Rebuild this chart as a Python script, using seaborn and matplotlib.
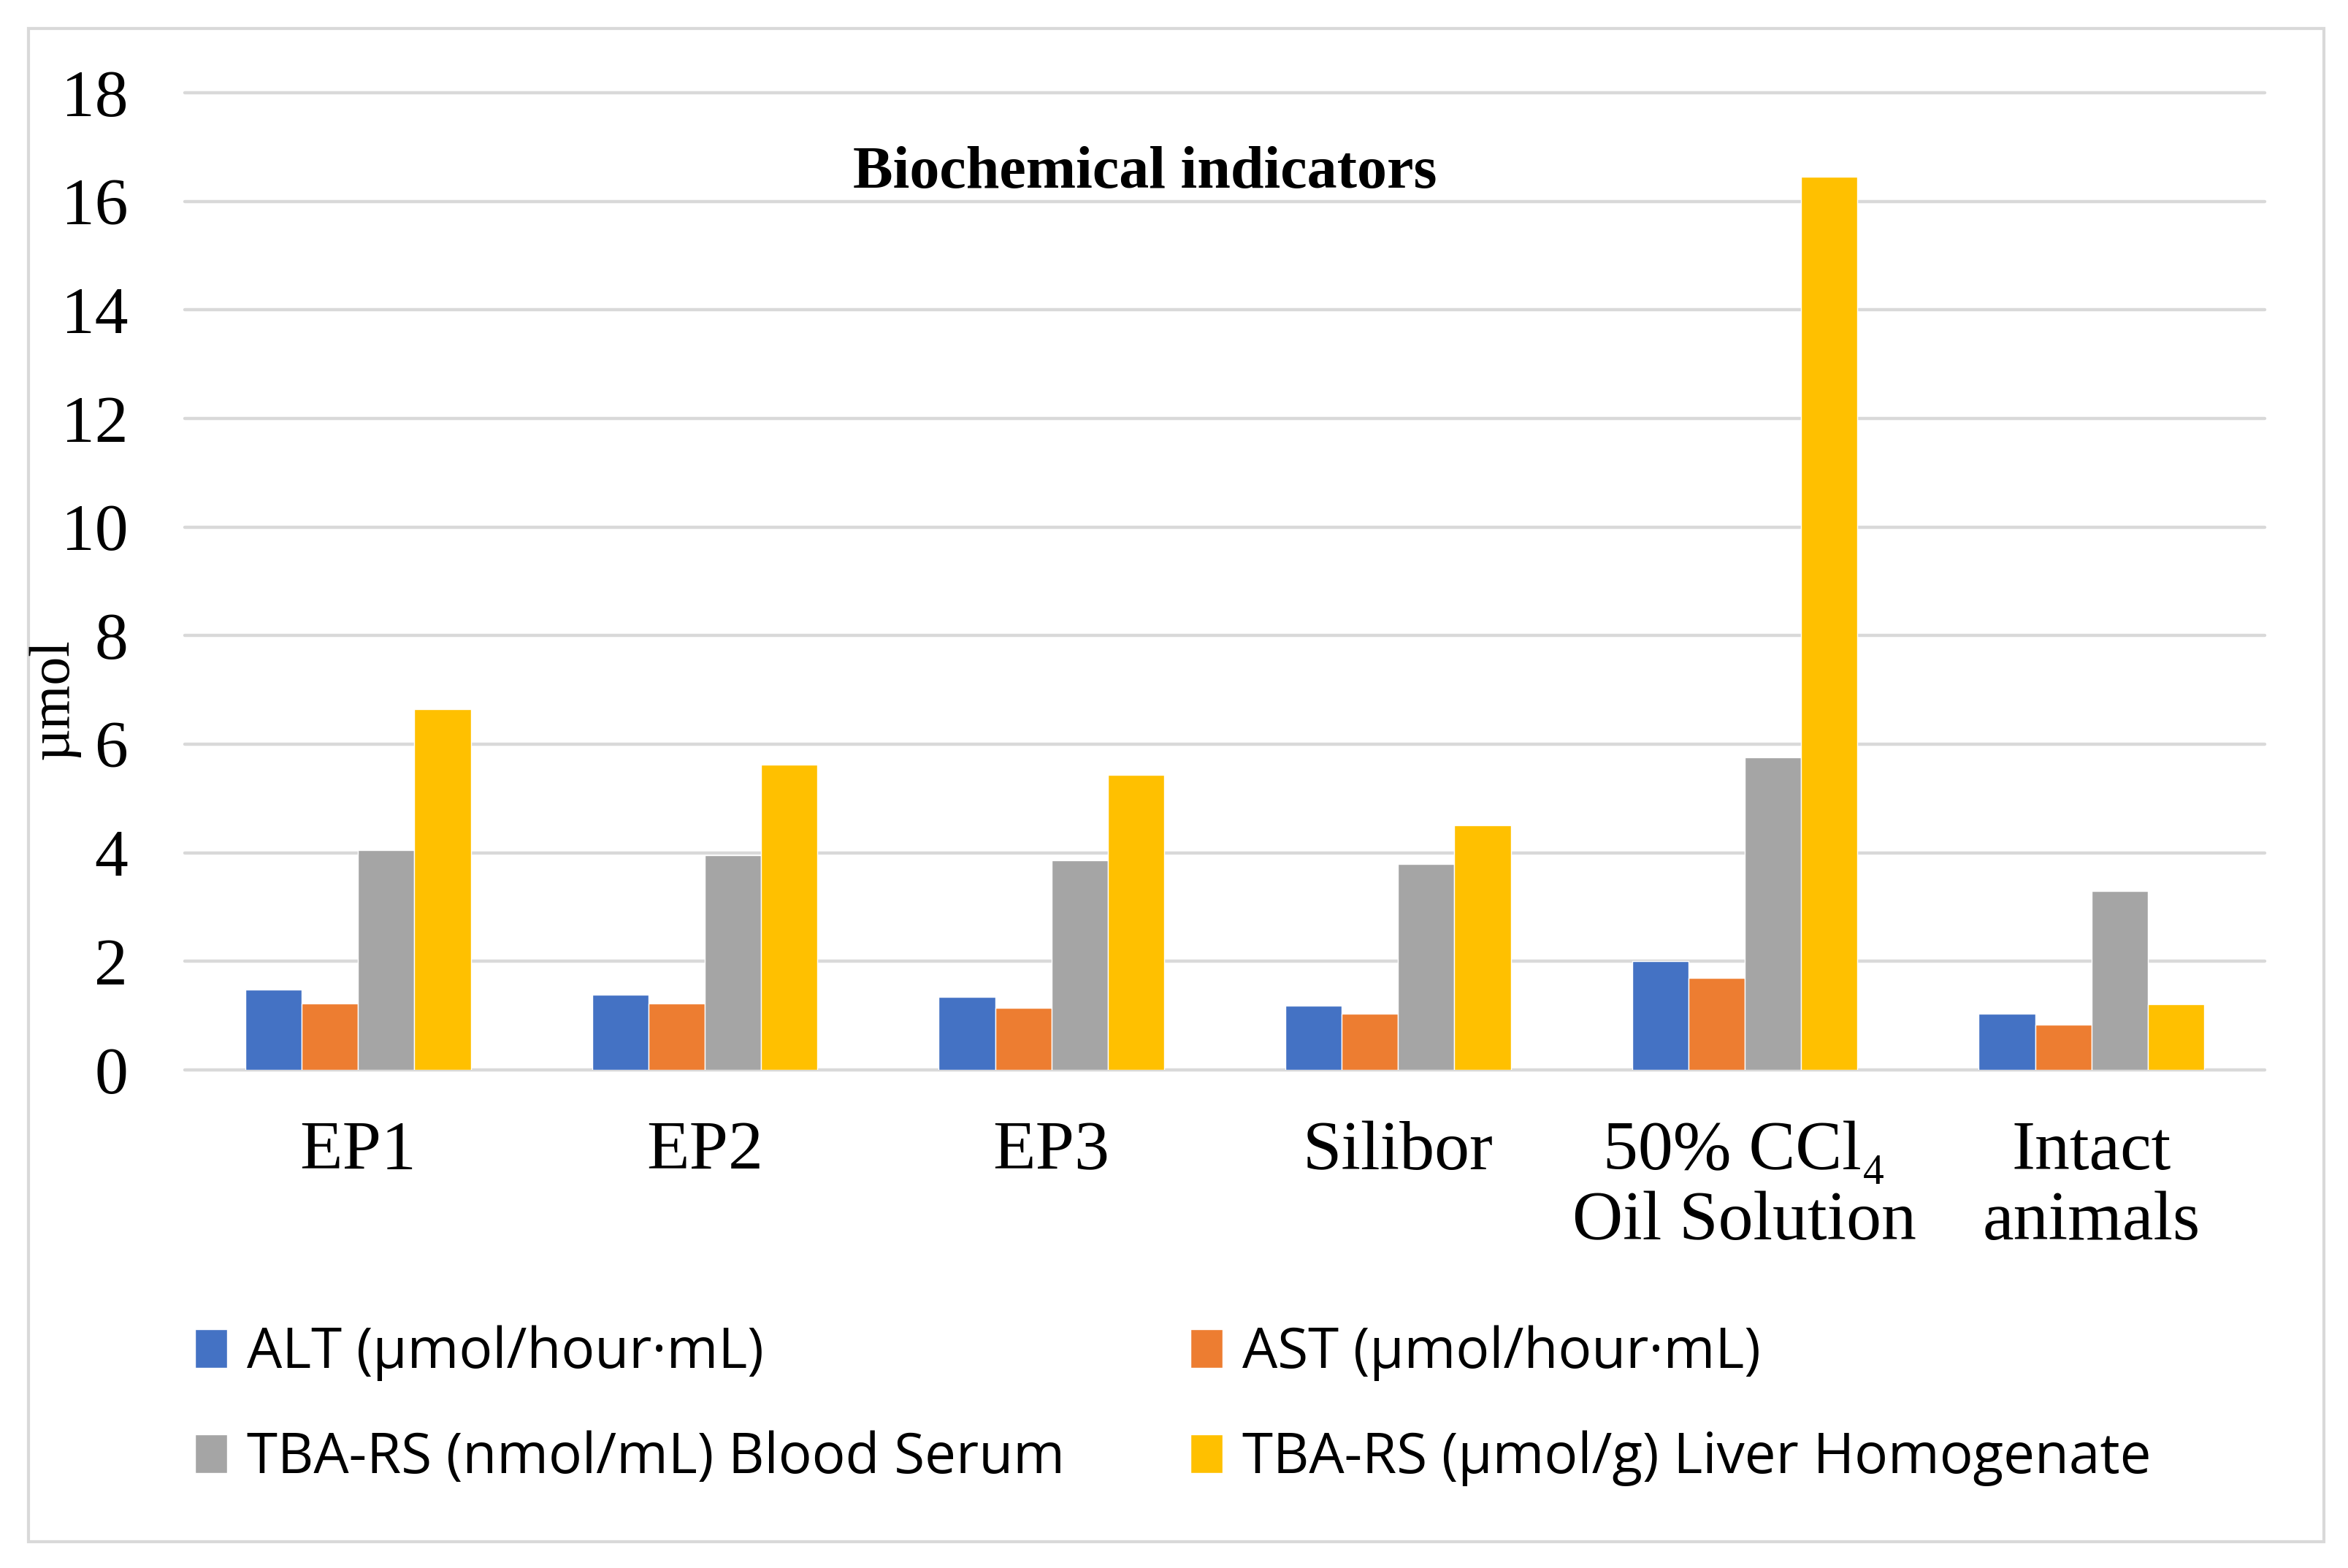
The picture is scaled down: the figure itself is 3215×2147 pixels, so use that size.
import numpy as np
import pandas as pd
import seaborn as sns
import matplotlib.pyplot as plt
from matplotlib.patches import Rectangle

# Values
groups = ["EP1", "EP2", "EP3", "Silibor", "50% CCl₄\nOil Solution", "Intact\nanimals"]
series = [
    "ALT (µmol/hour·mL)",
    "AST (µmol/hour·mL)",
    "TBA-RS (nmol/mL) Blood Serum",
    "TBA-RS (µmol/g) Liver Homogenate",
]
alt = [1.48, 1.39, 1.34, 1.19, 2.01, 1.04]
ast = [1.23, 1.23, 1.15, 1.04, 1.69, 0.83]
tba_serum = [4.05, 3.96, 3.86, 3.79, 5.76, 3.29]
tba_liver = [6.64, 5.62, 5.44, 4.51, 16.45, 1.21]
y_ticks = [0, 2, 4, 6, 8, 10, 12, 14, 16, 18]

colors = ["#4472C4", "#ED7D31", "#A5A5A5", "#FFC000"]

# Long format for seaborn
df = pd.DataFrame(
    {
        "Group": groups * len(series),
        "Indicator": np.repeat(series, len(groups)),
        "Value": alt + ast + tba_serum + tba_liver,
    }
)

sns.set_style("white")
plt.rcParams["font.family"] = ["Liberation Serif", "DejaVu Serif"]
plt.rcParams.update({"text.color": "black", "xtick.color": "black", "ytick.color": "black"})

W, H = 3216, 2147
fig = plt.figure(figsize=(W / 100, H / 100), dpi=100)
ax = fig.add_axes([253 / W, 1 - 1465 / H, (3101 - 253) / W, (1465 - 127) / H])

sns.barplot(
    data=df, x="Group", y="Value", hue="Indicator", order=groups,
    hue_order=series, palette=colors, width=0.65, saturation=1,
    errorbar=None, ax=ax,
)

ax.set_xlim(-0.5, 5.5)
ax.set_ylim(0, 18)
ax.set_yticks(y_ticks)
ax.yaxis.grid(True, color="#D9D9D9", lw=3.2)
ax.set_axisbelow(True)
for gl in ax.get_ygridlines():
    gl.set_clip_on(False)
sns.despine(ax=ax, left=True, bottom=True)
ax.tick_params(length=0)
ax.tick_params(axis="y", labelsize=66, pad=56)
ax.tick_params(axis="x", labelsize=69, pad=50)
for lbl in ax.get_xticklabels():
    lbl.set_linespacing(1.14)
ax.set_xlabel("")
ax.set_ylabel("")

# Title inside the plot and the y label
fig.text(1568 / W, 1 - 257 / H, "Biochemical indicators", ha="center",
         va="baseline", fontsize=59, fontweight="bold")
fig.text(74 / W, 1 - 957 / H, "µmol", rotation=90, ha="center", va="center",
         fontsize=56)

# Legend below, two columns
handles, labels = ax.get_legend_handles_labels()
ax.get_legend().remove()
order = [0, 2, 1, 3]
fig.legend(
    [handles[i] for i in order], [labels[i] for i in order], ncol=2,
    loc="center left", bbox_to_anchor=(267 / W, 1 - 1925 / H), frameon=False,
    prop={"family": ["Open Sans", "DejaVu Sans"], "size": 55},
    handlelength=0.58, handleheight=0.68, handletextpad=0.35,
    columnspacing=2.25, labelspacing=0.88, borderpad=0, borderaxespad=0,
)

# Outer frame
fig.add_artist(Rectangle((39 / W, 1 - 2111 / H), (3182 - 39) / W, (2111 - 39) / H,
                         transform=fig.transFigure, fill=False,
                         edgecolor="#D9D9D9", lw=3))

fig.savefig("out.png", dpi=100)
